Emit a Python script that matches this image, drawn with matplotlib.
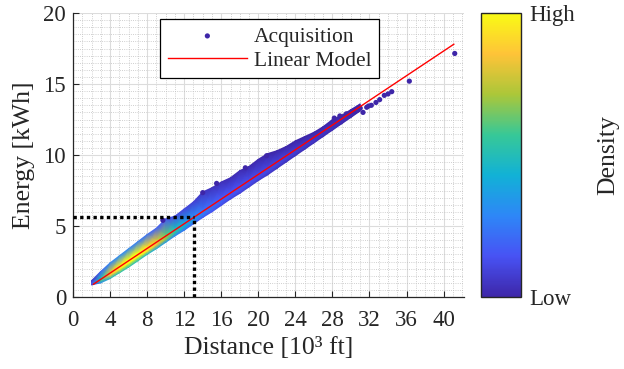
import matplotlib
matplotlib.use('Agg')
import matplotlib.pyplot as plt
import numpy as np
from matplotlib.colors import LinearSegmentedColormap
from matplotlib.ticker import MultipleLocator

plt.rcParams['font.family'] = ['Liberation Serif', 'DejaVu Serif']

# parula-like colormap
parula = LinearSegmentedColormap.from_list('parula', [
    (0.2422, 0.1504, 0.6603), (0.2810, 0.3228, 0.9579),
    (0.1786, 0.5289, 0.9682), (0.0689, 0.6948, 0.8394),
    (0.2161, 0.7843, 0.5923), (0.6720, 0.7793, 0.2227),
    (0.9970, 0.7659, 0.2199), (0.9769, 0.9839, 0.0805)])

# dense part of the acquisitions: band envelope (distance in 10^3 ft, energy in kWh)
band_x = [2.0, 3, 4, 5, 6, 7, 8, 9, 10, 11, 12, 13, 14, 15, 16,
          17, 18, 19, 20, 21, 22, 23, 24, 25, 26, 27, 28, 29, 30, 31]
band_low = [0.85, 1.0, 1.3, 1.7, 2.1, 2.55, 3.0, 3.4, 3.85, 4.3, 4.7, 5.15, 5.6, 6.0, 6.45,
            6.9, 7.3, 7.75, 8.2, 8.6, 9.05, 9.5, 9.95, 10.4, 10.85, 11.3, 11.75, 12.2, 12.65, 13.1]
band_ridge_lo = [0.95, 1.15, 1.55, 1.95, 2.4, 2.85, 3.25, 3.7, 4.1, 4.55, 4.95, 5.4, 5.8, 6.25, 6.7,
                 7.1, 7.55, 8.0, 8.4, 8.85, 9.3, 9.75, 10.15, 10.6, 11.0, 11.45, 11.9, 12.35, 12.8, 13.2]
band_ridge_hi = [1.05, 1.35, 1.8, 2.25, 2.7, 3.15, 3.6, 4.05, 4.45, 4.9, 5.35, 5.8, 6.25, 6.7, 7.1,
                 7.55, 8.0, 8.4, 8.85, 9.25, 9.7, 10.1, 10.5, 10.9, 11.3, 11.75, 12.2, 12.6, 13.0, 13.4]
band_high = [1.15, 1.8, 2.4, 2.9, 3.4, 3.9, 4.4, 4.85, 5.5, 5.7, 6.2, 6.7, 7.4, 7.7, 8.1,
             8.4, 8.9, 9.2, 9.7, 10.1, 10.3, 10.6, 11.0, 11.3, 11.6, 12.0, 12.5, 12.8, 13.2, 13.6]
# normalised point density on each of those four rows
dens_low = [0.05, 0.3, 0.45, 0.5, 0.5, 0.5, 0.45, 0.4, 0.35, 0.28, 0.23, 0.19, 0.16, 0.14, 0.12,
            0.1, 0.09, 0.08, 0.07, 0.06, 0.05, 0.04, 0.04, 0.03, 0.03, 0.02, 0.02, 0.01, 0.01, 0.0]
dens_ridge_lo = [0.15, 0.55, 0.85, 0.95, 1.0, 1.0, 0.95, 0.85, 0.7, 0.55, 0.42, 0.33, 0.26, 0.21, 0.18,
                 0.16, 0.14, 0.13, 0.12, 0.11, 0.1, 0.09, 0.08, 0.07, 0.06, 0.05, 0.04, 0.03, 0.02, 0.01]
dens_ridge_hi = [0.12, 0.5, 0.8, 0.95, 1.0, 1.0, 0.92, 0.8, 0.62, 0.48, 0.36, 0.28, 0.22, 0.18, 0.15,
                 0.13, 0.12, 0.11, 0.1, 0.09, 0.08, 0.07, 0.06, 0.05, 0.04, 0.04, 0.03, 0.02, 0.01, 0.01]
dens_high = [0.05, 0.2, 0.28, 0.3, 0.28, 0.25, 0.22, 0.18, 0.15, 0.12, 0.1, 0.08, 0.05, 0.04, 0.03,
             0.02, 0.02, 0.01, 0.01, 0.0, 0.0, 0.0, 0.0, 0.0, 0.0, 0.0, 0.0, 0.0, 0.0, 0.0]

# sparse acquisitions
sparse_x = [9.7, 14.0, 15.5, 18.6, 20.9, 28.2, 28.8, 29.5, 30.3, 31.0, 31.3, 31.7, 31.9,
            32.2, 32.7, 33.1, 33.6, 34.0, 34.4, 36.3, 41.2]
sparse_y = [5.4, 7.35, 8.0, 9.1, 9.95, 12.6, 12.75, 12.9, 13.1, 13.3, 13.0, 13.36, 13.45,
            13.5, 13.7, 13.9, 14.2, 14.3, 14.46, 15.2, 17.15]

# linear model end points
model_x = [2.2, 41.1]
model_y = [0.9, 17.8]

# highlighted operating point
mark_x = 13.1
mark_y = 5.6

fig = plt.figure(figsize=(6.24, 3.69), dpi=100)
ax = fig.add_axes([73 / 624, 72 / 369, 391 / 624, 284 / 369])
cax = fig.add_axes([481 / 624, 72 / 369, 40 / 624, 284 / 369])

X = np.array([band_x] * 4)
Y = np.array([band_low, band_ridge_lo, band_ridge_hi, band_high])
C = np.array([dens_low, dens_ridge_lo, dens_ridge_hi, dens_high])
mesh = ax.pcolormesh(X, Y, C, shading='gouraud', cmap=parula, vmin=0, vmax=1, zorder=2)

ax.scatter(sparse_x, sparse_y, s=14, color=parula(0.0), edgecolors='none', zorder=3,
           label='Acquisition')
ax.plot(model_x, model_y, color='red', lw=1.0, zorder=4, label='Linear Model')

ax.plot([0, mark_x], [mark_y, mark_y], color='black', lw=2.4, ls=(0, (1, 1)), zorder=5)
ax.plot([mark_x, mark_x], [0, mark_y], color='black', lw=2.4, ls=(0, (1, 1)), zorder=5)

ax.set_xlim(0, 42.2)
ax.set_ylim(0, 20)
ax.xaxis.set_major_locator(MultipleLocator(4))
ax.xaxis.set_minor_locator(MultipleLocator(1))
ax.yaxis.set_major_locator(MultipleLocator(5))
ax.yaxis.set_minor_locator(MultipleLocator(0.5))
ax.grid(which='major', color='#dcdcdc', lw=0.8, ls='-', zorder=0)
ax.grid(which='minor', color='#c0c0c0', lw=0.6, ls=':', zorder=0)
ax.set_axisbelow(True)
ax.tick_params(which='major', direction='in', length=4, width=0.8, labelsize=16.5,
               color='#262626', labelcolor='#262626')
ax.tick_params(axis='x', which='major', pad=9)
ax.tick_params(axis='y', which='major', pad=5)
ax.tick_params(which='minor', length=0)
for side in ['top', 'right']:
    ax.spines[side].set_visible(False)
for side in ['left', 'bottom']:
    ax.spines[side].set_color('#262626')
    ax.spines[side].set_linewidth(0.9)

ax.set_xlabel('Distance [10³ ft]', fontsize=18.5, color='#262626', labelpad=5)
ax.set_ylabel('Energy [kWh]', fontsize=18.5, color='#262626', labelpad=6)

leg = ax.legend(loc='upper left', bbox_to_anchor=(0.2225, 0.979), borderaxespad=0,
                fontsize=15.5, frameon=True, fancybox=False, edgecolor='black',
                framealpha=1, handlelength=3.7, handletextpad=0.3, labelspacing=0.2,
                borderpad=0.35, markerscale=1.0)
leg.get_frame().set_linewidth(0.9)
for t in leg.get_texts():
    t.set_color('#262626')

cb = fig.colorbar(mesh, cax=cax, ticks=[0, 1])
cb.ax.set_yticklabels(['Low', 'High'])
cb.ax.tick_params(length=0, labelsize=16.5, labelcolor='#262626', pad=6)
cb.outline.set_edgecolor('#262626')
cb.outline.set_linewidth(1.0)
fig.text(608 / 624, 1 - 155 / 369, 'Density', rotation=90, fontsize=18.5,
         color='#262626', ha='center', va='center')

fig.savefig('out.png', dpi=100)
